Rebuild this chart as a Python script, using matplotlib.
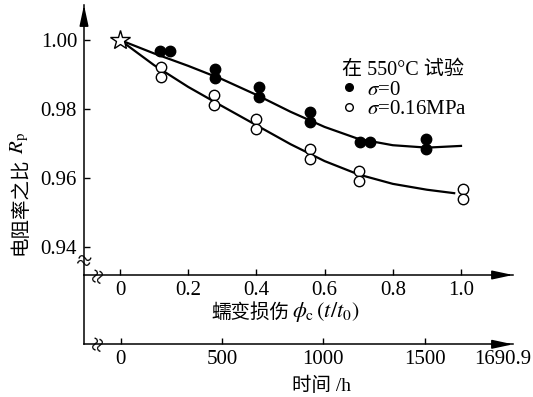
import matplotlib
matplotlib.use('Agg')
import matplotlib.pyplot as plt
from matplotlib.lines import Line2D

plt.rcParams['font.family'] = ['Liberation Serif', 'Noto Sans CJK SC']
plt.rcParams['mathtext.fontset'] = 'stix'
plt.rcParams['font.size'] = 13
plt.rcParams['axes.unicode_minus'] = False

phi_s0 = [0.117, 0.147, 0.28, 0.28, 0.409, 0.409, 0.557, 0.557, 0.704, 0.733, 0.896, 0.896]
r_s0 = [0.9968, 0.9968, 0.9915, 0.9889, 0.9865, 0.9836, 0.9792, 0.9763, 0.9705, 0.9705, 0.9712, 0.9684]
phi_s16 = [0.12, 0.12, 0.276, 0.276, 0.398, 0.398, 0.557, 0.557, 0.702, 0.702, 1.007, 1.007]
r_s16 = [0.9923, 0.9894, 0.9841, 0.9812, 0.9771, 0.9742, 0.9683, 0.9654, 0.9620, 0.9592, 0.9567, 0.9539]

# fitted curves
phi_fit0 = [0, 0.1, 0.2, 0.3, 0.4, 0.5, 0.6, 0.7, 0.8, 0.9, 1.0]
r_fit0 = [1.0, 0.9961, 0.9925, 0.9886, 0.9841, 0.9792, 0.9748, 0.9713, 0.9695, 0.9688, 0.9693]
phi_fit16 = [0, 0.1, 0.2, 0.3, 0.4, 0.5, 0.6, 0.7, 0.8, 0.9, 0.98]
r_fit16 = [1.0, 0.9927, 0.9864, 0.9808, 0.9753, 0.9698, 0.9649, 0.9610, 0.9583, 0.9566, 0.9556]

yticks = [0.94, 0.96, 0.98, 1.00]
phi_ticks = [0, 0.2, 0.4, 0.6, 0.8, 1.0]
phi_labels = ['0', '0.2', '0.4', '0.6', '0.8', '1.0']
t_ticks = [0, 500, 1000, 1500]
t0 = 1690.9

W, H = 533, 397
fig = plt.figure(figsize=(W / 100, H / 100), dpi=100)

def fx(px):
    return px / W

def fy(py):
    return 1 - py / H

ax = fig.add_axes([fx(84), fy(275), fx(513) - fx(84), fy(5) - fy(275)])
ax2 = fig.add_axes([fx(84), fy(344.3), fx(513) - fx(84), fy(275) - fy(344.3)])

ax.plot(phi_fit0, r_fit0, color='k', lw=1.6, zorder=2)
ax.plot(phi_fit16, r_fit16, color='k', lw=1.6, zorder=2)
ax.plot(phi_s0, r_s0, ls='none', marker='o', ms=7.5, mfc='k', mec='k', zorder=3)
ax.plot(phi_s16, r_s16, ls='none', marker='o', ms=7.5, mfc='w', mec='k', mew=1.0, zorder=3)
ax.plot([0], [1.0], ls='none', marker='*', ms=15, mfc='w', mec='k', mew=1.0, zorder=4)

ax.set_xlim(-0.1056, 1.1525)
ax.set_ylim(0.93188, 1.010145)
ax.set_yticks(yticks)
ax.set_yticklabels(['%.2f' % v for v in yticks])
ax.set_xticks(phi_ticks)
ax.set_xticklabels(phi_labels)
for s in ['top', 'right']:
    ax.spines[s].set_visible(False)
for s in ['left', 'bottom']:
    ax.spines[s].set_linewidth(1.1)
ax.tick_params(direction='in', length=4, width=1, labelsize=15)
ax.tick_params(axis='y', pad=5)
ax.tick_params(axis='x', pad=4)

ax2.set_xlim(-181.6, 1935.8)
ax2.set_ylim(0, 1)
ax2.set_xticks(t_ticks)
ax2.set_yticks([])
for s in ['top', 'right']:
    ax2.spines[s].set_visible(False)
for s in ['left', 'bottom']:
    ax2.spines[s].set_linewidth(1.1)
ax2.tick_params(direction='in', length=4, width=1, labelsize=15, pad=4)
ax2.patch.set_alpha(0)

# arrow heads
arr = dict(arrowstyle='-|>,head_length=0.7,head_width=0.15', color='k', lw=1.1,
           mutation_scale=18, shrinkA=0, shrinkB=0)
ax.annotate('', xy=(0, 1), xytext=(0, 0.95), xycoords='axes fraction', arrowprops=arr)
ax.annotate('', xy=(1, 0), xytext=(0.95, 0), xycoords='axes fraction', arrowprops=arr)
ax2.annotate('', xy=(1, 0), xytext=(0.95, 0), xycoords='axes fraction', arrowprops=arr)

# axis breaks
fig.text(fx(83), fy(263), '≈', fontsize=19, ha='center', va='center', rotation=-15)
fig.text(fx(100), fy(276), '≈', fontsize=19, ha='center', va='center', rotation=75)
fig.text(fx(100), fy(344), '≈', fontsize=19, ha='center', va='center', rotation=75)

# legend
handles = [Line2D([], [], ls='none', marker='o', ms=5.5, mfc='k', mec='k'),
           Line2D([], [], ls='none', marker='o', ms=5.5, mfc='w', mec='k')]
ax.legend(handles, [r'$\sigma$=0', r'$\sigma$=0.16MPa'], title='在 550°C 试验',
          loc='upper left', bbox_to_anchor=(fx(342), fy(61)), bbox_transform=fig.transFigure,
          frameon=False, borderpad=0, borderaxespad=0, handlelength=0.7,
          handletextpad=0.5, labelspacing=0.0, alignment='left',
          fontsize=15, title_fontsize=14.5)

# labels (CJK part and math part are separate texts)
fig.text(fx(20), fy(255), '电阻率之比', rotation=90, ha='center', va='bottom', fontsize=14)
fig.text(fx(20), fy(154), '$R_{\\rm p}$', rotation=90, ha='center', va='bottom', fontsize=15)
fig.text(fx(211), fy(312), '蠕变损伤', ha='left', va='center', fontsize=14)
fig.text(fx(292), fy(312), '$\\phi_{\\rm c}\\,(t/t_0)$', ha='left', va='center', fontsize=16)
fig.text(fx(322), fy(386), '时间 /h', ha='center', va='center', fontsize=14)
fig.text(fx(502.5), fy(359), '%.1f' % t0, ha='center', va='center', fontsize=15)

fig.savefig('out.png', dpi=100)
